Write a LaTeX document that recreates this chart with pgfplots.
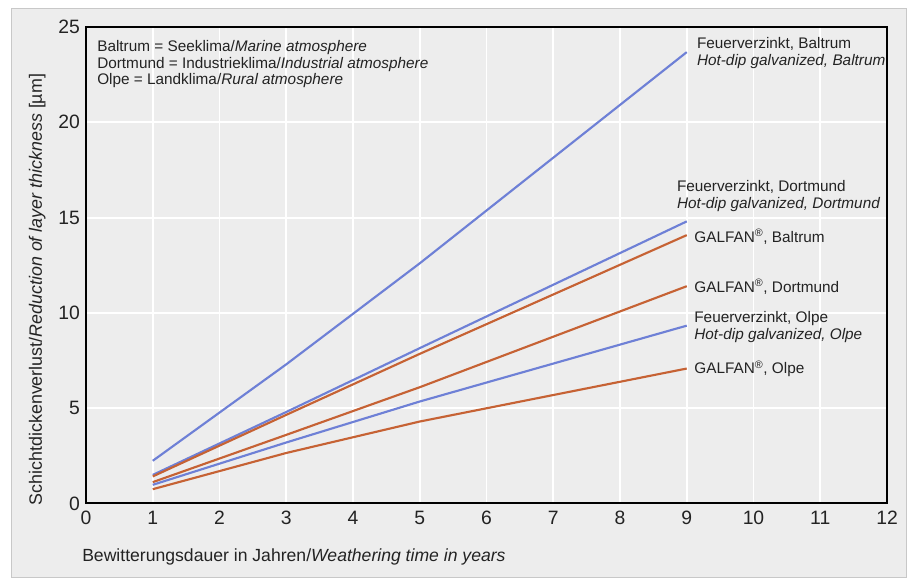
\documentclass[border=0pt]{standalone}
\usepackage{fontspec}
\setmainfont{Liberation Sans}
\usepackage{pgfplots}
\pgfplotsset{compat=1.18}
\definecolor{bgc}{RGB}{237,237,237}
\definecolor{framec}{RGB}{200,200,200}
\definecolor{fvblue}{RGB}{110,128,214}
\definecolor{gforange}{RGB}{198,98,52}
\definecolor{txt}{RGB}{35,35,35}
\begin{document}
\begin{tikzpicture}[x=0.75pt,y=0.75pt]
\useasboundingbox (0,0) rectangle (908,578);
\fill[white] (0,0) rectangle (908,578);
\filldraw[fill=bgc, draw=framec, line width=0.75pt] (11,0.5) rectangle (906,569);
\begin{axis}[
  at={(64.5pt,55.875pt)}, anchor=south west,
  scale only axis, width=600.75pt, height=357.4pt,
  xmin=0, xmax=12, ymin=0, ymax=25,
  xtick={0,...,12}, ytick={0,5,...,25},
  grid=major,
  major grid style={white, line width=1.4pt},
  axis line style={black, line width=1.5pt},
  major tick length=0pt,
  clip=false,
  /pgf/number format/assume math mode=true,
  tick label style={font=\fontsize{14.5pt}{16pt}\selectfont, text=txt},
  xticklabel style={yshift=-2pt},
  yticklabel style={xshift=-1pt},
  font=\fontsize{11.5pt}{12.4pt}\selectfont,
  xlabel={Bewitterungsdauer in Jahren/\textit{Weathering time in years}},
  xlabel style={at={(axis description cs:-0.005,-0.112)}, anchor=west, text=txt, inner sep=0pt, font=\fontsize{13.2pt}{15pt}\selectfont},
  ylabel={Schichtdickenverlust/\textit{Reduction of layer thickness} [µm]},
  ylabel style={at={(axis description cs:-0.061,0.449)}, anchor=center, text=txt, inner sep=0pt, font=\fontsize{13.4pt}{15pt}\selectfont},
]
\addplot[fvblue, line width=1.6pt] coordinates {(1,2.24) (3,7.3) (5,12.6) (9,23.68)};
\addplot[fvblue, line width=1.6pt] coordinates {(1,1.5) (3,4.8) (5,8.15) (9,14.8)};
\addplot[gforange, line width=1.6pt] coordinates {(1,1.42) (3,4.65) (5,7.85) (9,14.08)};
\addplot[gforange, line width=1.6pt] coordinates {(1,1.12) (3,3.6) (5,6.1) (9,11.4)};
\addplot[fvblue, line width=1.6pt] coordinates {(1,0.98) (3,3.2) (5,5.35) (9,9.33)};
\addplot[gforange, line width=1.6pt] coordinates {(1,0.75) (3,2.65) (5,4.3) (9,7.08)};

\node[anchor=north west, align=left, inner sep=0pt, text=txt] at (axis cs:0.165,24.3)
  {Baltrum = Seeklima/\textit{Marine atmosphere}\\Dortmund = Industrieklima/\textit{Industrial atmosphere}\\Olpe = Landklima/\textit{Rural atmosphere}};
\node[anchor=west, align=left, inner sep=0pt, text=txt] at (axis cs:9.15,23.64)
  {Feuerverzinkt, Baltrum\\\textit{Hot-dip galvanized, Baltrum}};
\node[anchor=west, align=left, inner sep=0pt, text=txt] at (axis cs:8.85,16.13)
  {Feuerverzinkt, Dortmund\\\textit{Hot-dip galvanized, Dortmund}};
\node[anchor=west, align=left, inner sep=0pt, text=txt] at (axis cs:9.11,13.98)
  {GALFAN\textsuperscript{®}, Baltrum};
\node[anchor=west, align=left, inner sep=0pt, text=txt] at (axis cs:9.11,11.36)
  {GALFAN\textsuperscript{®}, Dortmund};
\node[anchor=west, align=left, inner sep=0pt, text=txt] at (axis cs:9.11,9.26)
  {Feuerverzinkt, Olpe\\\textit{Hot-dip galvanized, Olpe}};
\node[anchor=west, align=left, inner sep=0pt, text=txt] at (axis cs:9.11,7.06)
  {GALFAN\textsuperscript{®}, Olpe};
\end{axis}
\end{tikzpicture}
\end{document}
